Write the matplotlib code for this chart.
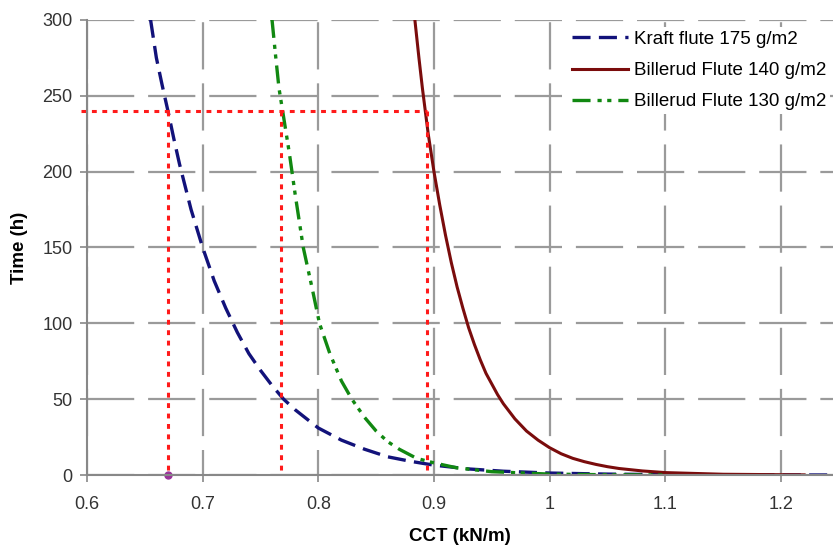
import matplotlib.pyplot as plt

plt.rcParams['font.family'] = ['Liberation Sans', 'DejaVu Sans']
plt.rcParams['lines.scale_dashes'] = False

# values
kraft_x = [0.655, 0.66, 0.665, 0.67, 0.675, 0.68, 0.69, 0.70, 0.71, 0.72, 0.73, 0.74,
           0.75, 0.76, 0.77, 0.78, 0.79, 0.80, 0.82, 0.84, 0.86, 0.88, 0.90, 0.93,
           0.96, 1.0, 1.05, 1.1, 1.15, 1.2, 1.24]
kraft_y = [300, 275, 257, 240, 222, 205, 175, 150, 128, 110, 94, 80,
           69, 59, 50, 43, 37, 31, 23, 17, 12, 9, 6.5, 4,
           2.5, 1.3, 0.6, 0.25, 0.12, 0.05, 0.02]

b140_x = [0.8835, 0.887, 0.89, 0.895, 0.90, 0.905, 0.91, 0.915, 0.92, 0.925, 0.93,
          0.935, 0.94, 0.945, 0.95, 0.955, 0.96, 0.97, 0.98, 0.99, 1.0, 1.01, 1.02,
          1.03, 1.04, 1.05, 1.06, 1.08, 1.10, 1.15, 1.22]
b140_y = [300, 275, 255, 225, 200, 178, 158, 140, 124, 110, 97,
          86, 76, 67, 60, 53, 47, 37, 29, 23, 18, 14, 11,
          8.8, 7, 5.5, 4.3, 2.7, 1.6, 0.5, 0.1]

b130_x = [0.760, 0.763, 0.766, 0.770, 0.775, 0.780, 0.787, 0.795, 0.801, 0.81, 0.82,
          0.829, 0.84, 0.85, 0.86, 0.87, 0.885, 0.90, 0.92, 0.95, 1.0, 1.05, 1.1]
b130_y = [300, 277, 255, 236, 212, 185, 150, 122, 100, 80, 62,
          50, 38, 29, 22, 17, 11, 8, 4.7, 2.2, 0.6, 0.17, 0.05]

target_time = 240
guide_x = [0.670, 0.768, 0.894]
marker_x = [0.67]
marker_y = [0]

fig = plt.figure(figsize=(8.33, 5.46), dpi=100)
ax = fig.add_axes([0.1044, 0.130, 0.8956, 0.8336])

grid_kw = dict(color='#9a9a9a', linewidth=1.6)
ax.yaxis.grid(True, linestyle=(0, (34, 10)), **grid_kw)
ax.xaxis.grid(True, linestyle=(16, (34, 10)), **grid_kw)
ax.set_axisbelow(True)

ax.plot(kraft_x, kraft_y, color='#12127a', linewidth=2.4, dashes=[13, 6],
        label='Kraft flute 175 g/m2')
ax.plot(b140_x, b140_y, color='#7a0c0c', linewidth=2.2,
        label='Billerud Flute 140 g/m2')
ax.plot(b130_x, b130_y, color='#118811', linewidth=2.4,
        dashes=[13, 5, 3, 4, 3, 5], label='Billerud Flute 130 g/m2')

# red dotted read-off lines
ax.plot([0.595, guide_x[-1]], [target_time, target_time], color='#ff1a1a',
        linewidth=2.2, dashes=[3.5, 4], clip_on=False)
for gx in guide_x:
    ax.plot([gx, gx], [target_time, 0], color='#ff1a1a', linewidth=2.2,
            dashes=[3.5, 4])
ax.plot(marker_x, marker_y, 'o', color='#993399', markersize=5, clip_on=False)

ax.set_xlim(0.6, 1.245)
ax.set_ylim(0, 300)
ax.set_xticks([0.6, 0.7, 0.8, 0.9, 1.0, 1.1, 1.2])
ax.set_xticklabels(['0.6', '0.7', '0.8', '0.9', '1', '1.1', '1.2'])
ax.set_yticks(range(0, 301, 50))
ax.tick_params(labelsize=13, colors='#333333', length=5, width=1.2)
ax.tick_params(color='#888888')
ax.tick_params(axis='x', pad=10)
ax.tick_params(axis='y', pad=5.5)

for s in ['top', 'right']:
    ax.spines[s].set_visible(False)
for s in ['left', 'bottom']:
    ax.spines[s].set_color('#888888')
    ax.spines[s].set_linewidth(1.5)

ax.set_xlabel('CCT (kN/m)', fontsize=13.5, fontweight='bold', labelpad=11)
ax.set_ylabel('Time (h)', fontsize=13.5, fontweight='bold', labelpad=10)

leg = ax.legend(loc='upper left', bbox_to_anchor=(568 / 833, 1 - 27 / 546),
                bbox_transform=fig.transFigure, fontsize=13.5, frameon=True,
                handlelength=3.0, handletextpad=0.3, labelspacing=0.75,
                borderpad=0.2, borderaxespad=0)
leg.get_frame().set_edgecolor('none')
leg.get_frame().set_facecolor('white')
leg.get_frame().set_alpha(1)

fig.savefig('out.png', dpi=100)
